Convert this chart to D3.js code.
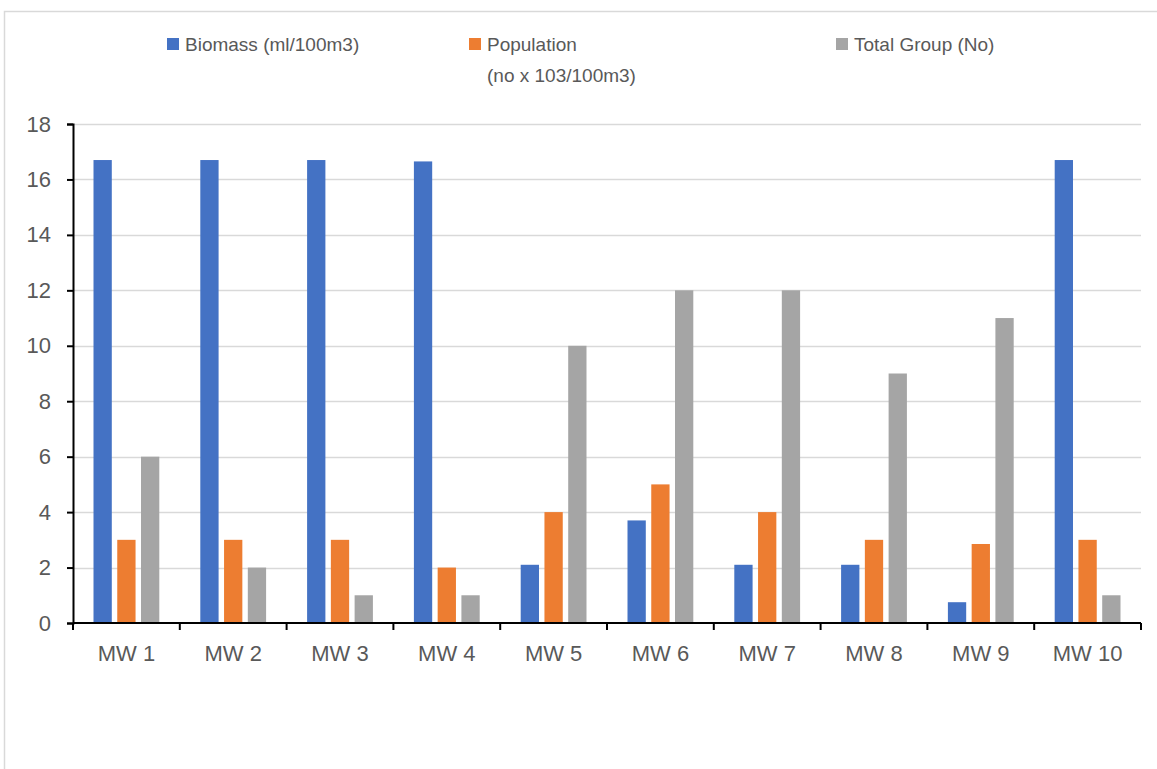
<!DOCTYPE html>
<html>
<head>
<meta charset="utf-8">
<script src="https://cdnjs.cloudflare.com/ajax/libs/d3/7.8.5/d3.min.js"></script>
<style>
  body { margin: 0; background: #fff; }
  text { font-family: "Liberation Sans", Arial, sans-serif; fill: #595959; }
</style>
</head>
<body>
<div id="chart"></div>
<script>
// chart data
var categories = ["MW 1", "MW 2", "MW 3", "MW 4", "MW 5", "MW 6", "MW 7", "MW 8", "MW 9", "MW 10"];
var seriesNames = ["Biomass (ml/100m3)", "Population\n(no x 103/100m3)", "Total Group (No)"];
var biomass    = [16.7, 16.7, 16.7, 16.65, 2.1, 3.7, 2.1, 2.1, 0.75, 16.7];
var population = [3, 3, 3, 2, 4, 5, 4, 3, 2.85, 3];
var totalGroup = [6, 2, 1, 1, 10, 12, 12, 9, 11, 1];
var yTicks = [0, 2, 4, 6, 8, 10, 12, 14, 16, 18];
var colors = ["#4472C4", "#ED7D31", "#A5A5A5"];

var width = 1157;
var height = 769;
var margin = {left: 73, right: 16, top: 124, bottom: 146};

var svg = d3.select("#chart")
    .append("svg")
    .attr("width", width)
    .attr("height", height);

// outer chart border (only top and left are visible)
svg.append("path")
    .attr("d", "M4.5," + height + "V11.5H" + width)
    .attr("fill", "none")
    .attr("stroke", "#d9d9d9")
    .attr("stroke-width", 1.5);

var x0 = d3.scaleBand()
    .domain(categories)
    .range([margin.left, width - margin.right]);

var x1 = d3.scaleBand()
    .domain([0, 1, 2])
    .range([20.5, x0.bandwidth() - 20.5])
    .paddingInner(0.23);

var y = d3.scaleLinear()
    .domain([0, 18])
    .range([height - margin.bottom, margin.top]);

// gridlines
svg.append("g")
    .selectAll("line")
    .data(yTicks.filter(function(d) { return d > 0; }))
    .enter().append("line")
    .attr("x1", margin.left)
    .attr("x2", width - margin.right)
    .attr("y1", function(d) { return Math.round(y(d)) + 0.5; })
    .attr("y2", function(d) { return Math.round(y(d)) + 0.5; })
    .attr("stroke", "#d9d9d9")
    .attr("stroke-width", 1.5);

// bars
var rows = categories.map(function(c, i) {
    return {cat: c, vals: [biomass[i], population[i], totalGroup[i]]};
});

var groups = svg.append("g")
    .selectAll("g")
    .data(rows)
    .enter().append("g")
    .attr("transform", function(d) { return "translate(" + x0(d.cat) + ",0)"; });

groups.selectAll("rect")
    .data(function(d) { return d.vals.map(function(v, k) { return {k: k, v: v}; }); })
    .enter().append("rect")
    .attr("x", function(d) { return x1(d.k); })
    .attr("width", x1.bandwidth())
    .attr("y", function(d) { return y(d.v); })
    .attr("height", function(d) { return y(0) - y(d.v); })
    .attr("fill", function(d) { return colors[d.k]; });

// y axis
var yAxis = d3.axisLeft(y)
    .tickValues(yTicks)
    .tickSize(6)
    .tickPadding(16);

var gY = svg.append("g")
    .attr("transform", "translate(" + margin.left + ",0)")
    .call(yAxis);
gY.select(".domain").attr("stroke", "#000").attr("stroke-width", 2);
gY.selectAll(".tick line").attr("stroke", "#000").attr("stroke-width", 2);
gY.selectAll(".tick text")
    .style("font-size", "22px")
    .attr("fill", "#595959");

// x axis
var xAxis = d3.axisBottom(x0)
    .tickSize(0)
    .tickPadding(22);

var gX = svg.append("g")
    .attr("transform", "translate(0," + y(0) + ")")
    .call(xAxis);
gX.select(".domain").attr("stroke", "#000").attr("stroke-width", 2)
    .attr("d", "M" + margin.left + ",0H" + (width - margin.right));
gX.selectAll(".tick text")
    .style("font-size", "22px")
    .attr("fill", "#595959");

// category boundary ticks
gX.append("g")
    .selectAll("line")
    .data(categories.concat(["end"]))
    .enter().append("line")
    .attr("x1", function(d, i) { return i < categories.length ? x0(d) : x0.range()[1]; })
    .attr("x2", function(d, i) { return i < categories.length ? x0(d) : x0.range()[1]; })
    .attr("y1", 0)
    .attr("y2", 7)
    .attr("stroke", "#000")
    .attr("stroke-width", 2);

// legend
var legendX = [167, 469, 836];
var legend = svg.append("g")
    .selectAll("g")
    .data(seriesNames)
    .enter().append("g")
    .attr("transform", function(d, i) { return "translate(" + legendX[i] + ",38)"; });

legend.append("rect")
    .attr("width", 12)
    .attr("height", 12)
    .attr("fill", function(d, i) { return colors[i]; });

legend.append("text")
    .attr("x", 18)
    .attr("y", 13)
    .style("font-size", "19px")
    .selectAll("tspan")
    .data(function(d) { return d.split("\n"); })
    .enter().append("tspan")
    .attr("x", 18)
    .attr("dy", function(d, i) { return i === 0 ? 0 : 31; })
    .text(function(d) { return d; });
</script>
</body>
</html>
